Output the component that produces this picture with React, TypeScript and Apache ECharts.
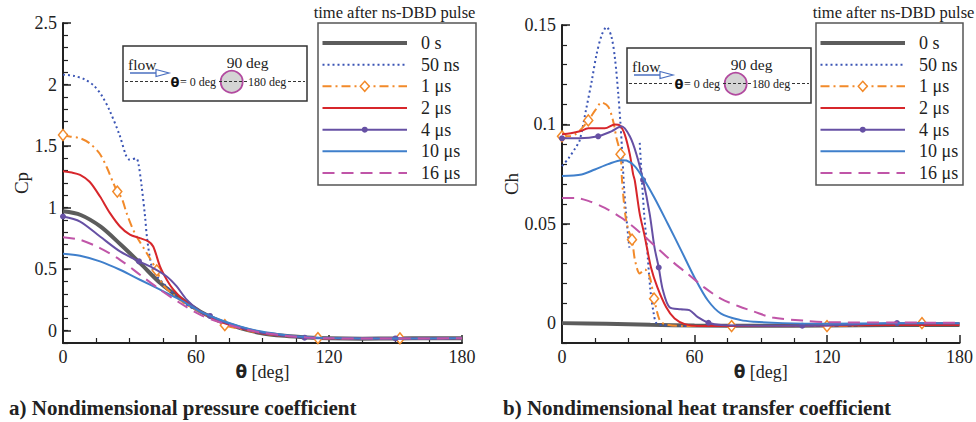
import React, { useEffect, useRef } from 'react';
import * as echarts from 'echarts';

const SERIES_NAMES = ['0 s', '50 ns', '1 μs', '2 μs', '4 μs', '10 μs', '16 μs'];
const LEGEND_TITLE = 'time after ns-DBD pulse';
const SUBTITLE_A = 'a) Nondimensional pressure coefficient';
const SUBTITLE_B = 'b) Nondimensional heat transfer coefficient';

// ---- Pressure coefficient Cp vs theta [deg] ----
const cp0s = [[0, 0.97], [8, 0.94], [17, 0.845], [26, 0.7], [35, 0.545], [44, 0.385], [53, 0.262], [62, 0.155], [71, 0.075], [80, 0.022], [89, -0.018], [100, -0.042], [110, -0.055], [120, -0.062], [135, -0.065], [150, -0.063], [165, -0.062], [180, -0.062]];
const cp50ns = [[0, 2.08], [5, 2.07], [10, 2.04], [14, 1.99], [17.5, 1.91], [21, 1.79], [25.5, 1.59], [28.5, 1.42], [30, 1.39], [33, 1.4], [34, 1.36], [35.5, 1.17], [37, 0.93], [38, 0.74], [40, 0.52], [42, 0.45], [45, 0.39], [50, 0.3], [55, 0.22], [62, 0.15], [71, 0.075], [80, 0.022], [89, -0.018], [100, -0.042], [110, -0.055], [120, -0.062], [150, -0.063], [180, -0.062]];
const cp1us = [[0, 1.59], [3, 1.578], [7.7, 1.564], [12, 1.523], [16.5, 1.44], [19.7, 1.33], [22.7, 1.2], [24.5, 1.13], [26.5, 1.077], [28.7, 0.955], [31, 0.847], [33.2, 0.765], [37.8, 0.63], [42.3, 0.49], [45.2, 0.37], [50, 0.29], [55, 0.22], [62, 0.15], [67, 0.105], [73, 0.045], [80, 0.015], [89, -0.02], [100, -0.043], [115, -0.06], [135, -0.065], [152, -0.063], [180, -0.062]];
const cp2us = [[0, 1.295], [4, 1.285], [7.7, 1.266], [12, 1.21], [16.7, 1.09], [21.2, 0.955], [25.7, 0.847], [30.2, 0.78], [34.7, 0.752], [38.5, 0.725], [40.7, 0.684], [43.8, 0.52], [46.8, 0.414], [49.8, 0.333], [54.3, 0.252], [61.8, 0.157], [71, 0.075], [80, 0.022], [89, -0.018], [100, -0.042], [110, -0.055], [120, -0.062], [150, -0.063], [180, -0.062]];
const cp4us = [[0, 0.928], [7.7, 0.887], [16.7, 0.765], [25.7, 0.644], [34.3, 0.563], [40.7, 0.509], [46.8, 0.441], [51.3, 0.36], [55.8, 0.252], [61.8, 0.157], [66.3, 0.12], [71, 0.08], [80, 0.025], [89, -0.015], [100, -0.042], [109, -0.057], [120, -0.062], [150, -0.063], [180, -0.062]];
const cp10us = [[0, 0.625], [7.7, 0.609], [16.7, 0.563], [25.7, 0.495], [34.7, 0.414], [43.8, 0.333], [52.8, 0.252], [61.8, 0.157], [70.8, 0.089], [79.8, 0.035], [88.9, -0.005], [100, -0.035], [110, -0.052], [120, -0.06], [150, -0.063], [180, -0.062]];
const cp16us = [[0, 0.76], [7.7, 0.739], [16.7, 0.671], [25.7, 0.576], [34.7, 0.455], [43.8, 0.333], [52.8, 0.225], [61.8, 0.13], [70.8, 0.068], [79.8, 0.022], [88.9, -0.013], [100, -0.04], [110, -0.055], [120, -0.062], [150, -0.063], [180, -0.062]];
const cpMarks1us = [0, 24.5, 42.3, 73, 115, 152];
const cpMarks4us = [0, 34.3, 66.3, 109, 150];

// ---- Heat transfer coefficient Ch vs theta [deg] ----
const ch0s = [[0, 0], [20, -0.0003], [40, -0.0008], [60, -0.0012], [90, -0.0013], [120, -0.0012], [150, -0.001], [180, -0.0009]];
const ch50ns = [[0, 0.079], [3, 0.083], [6, 0.088], [8, 0.092], [11, 0.108], [13.5, 0.122], [15.6, 0.135], [18, 0.145], [20.2, 0.149], [22.4, 0.144], [24, 0.133], [25.5, 0.115], [26.5, 0.1], [27.3, 0.085], [28, 0.07], [29, 0.055], [30.5, 0.038], [32.8, null], [35.2, 0.0907], [36.2, 0.0715], [37.2, 0.055], [38.5, 0.038], [40, 0.017], [41.5, 0.005], [42.7, 0], [45, -0.001], [60, -0.0015], [90, -0.0015], [120, -0.0012], [150, -0.001], [180, -0.0009]];
const ch1us = [[0, 0.094], [3, 0.094], [6, 0.095], [9, 0.098], [11.9, 0.102], [15, 0.107], [17.9, 0.111], [20.9, 0.109], [23.2, 0.1015], [24.7, 0.093], [26.5, 0.085], [27.2, 0.0715], [28.6, 0.055], [30, 0.047], [31.7, 0.042], [33, 0.032], [35.2, 0.025], [37.5, 0.027], [39.8, 0.023], [41.7, 0.0123], [44.2, 0.0015], [46.5, -0.0005], [55, -0.0015], [76.8, -0.0015], [90, -0.0015], [120, -0.0015], [150, -0.0005], [163, 0], [180, 0]];
const ch2us = [[0, 0.095], [4, 0.0955], [8.1, 0.0965], [11.9, 0.098], [19.4, 0.098], [23.9, 0.1], [26.2, 0.0995], [28.4, 0.095], [30.7, 0.085], [32.2, 0.075], [33, 0.0715], [35.2, 0.055], [37.4, 0.044], [40.3, 0.028], [43.2, 0.018], [47.2, 0.008], [51, 0.0023], [55.6, -0.0005], [62, -0.0015], [90, -0.0015], [120, -0.0012], [150, -0.001], [180, -0.0009]];
const ch4us = [[0, 0.093], [8, 0.093], [16.4, 0.094], [22.4, 0.0965], [26.9, 0.099], [30.7, 0.094], [33.7, 0.085], [36.7, 0.072], [39.7, 0.055], [41.9, 0.038], [43.8, 0.028], [45.7, 0.0165], [48.7, 0.008], [53.8, 0.007], [57.7, 0.0065], [61.5, 0.003], [66.3, 0.0002], [72, -0.001], [90, -0.0013], [108.8, -0.0013], [130, -0.0008], [151.7, 0], [180, 0]];
const ch10us = [[0, 0.074], [8.9, 0.0748], [14.9, 0.0773], [20.9, 0.08], [27, 0.082], [29.2, 0.0818], [32.9, 0.079], [36.7, 0.073], [41.9, 0.063], [47.9, 0.05], [54, 0.0365], [60, 0.023], [66, 0.0115], [72, 0.0048], [81, 0.0015], [87, 0.0007], [100, 0], [120, -0.0003], [150, 0], [180, 0]];
const ch16us = [[0, 0.063], [6, 0.063], [11.9, 0.0615], [19.4, 0.058], [26.9, 0.053], [34.4, 0.0465], [41.9, 0.039], [49.4, 0.0315], [56.9, 0.0248], [64.4, 0.018], [71.9, 0.0123], [80, 0.0085], [87, 0.0058], [95.3, 0.0028], [110, 0.0012], [120, 0.0005], [150, 0.0003], [180, 0.0002]];
const chMarks1us = [0, 11.9, 26.5, 31.7, 41.7, 76.8, 120, 163];
const chMarks4us = [0, 16.4, 36.7, 43.8, 66.3, 108.8, 151.7];

const CP_MAJOR = [0, 0.5, 1, 1.5, 2, 2.5];
const CH_MAJOR = [0, 0.05, 0.1, 0.15];

const SERIF = "'Liberation Serif', 'Times New Roman', serif";
const INK = '#222';

const STYLES = [
  { color: '#5c5c5c', width: 4, dash: null, marker: null },
  { color: '#3b55b5', width: 2, dash: [2, 3], marker: null },
  { color: '#f28a2a', width: 2, dash: [9, 4, 2, 4], marker: 'diamond' },
  { color: '#d7262b', width: 2, dash: null, marker: null },
  { color: '#6650a4', width: 2, dash: null, marker: 'circle' },
  { color: '#3f7fcb', width: 2, dash: null, marker: null },
  { color: '#c055a8', width: 2, dash: [12, 7], marker: null },
];

function buildData(pairs: any[], marks: number[], style: any) {
  return pairs.map((p) => {
    if (p[1] === null) return [p[0], '-'];
    if (style.marker && marks.some((m) => Math.abs(m - p[0]) < 1e-9)) {
      if (style.marker === 'diamond') {
        return { value: p, symbol: 'diamond', symbolSize: [9, 11], itemStyle: { color: '#fff', borderColor: style.color, borderWidth: 1.5 } };
      }
      return { value: p, symbol: 'circle', symbolSize: 6, itemStyle: { color: style.color, borderWidth: 0 } };
    }
    return p;
  });
}

function makeSeries(idx: number, pairs: any[], marks: number[], axis: number) {
  const st = STYLES[idx];
  return {
    type: 'line',
    name: SERIES_NAMES[idx],
    xAxisIndex: axis,
    yAxisIndex: axis * 2,
    data: buildData(pairs, marks, st),
    symbol: 'none',
    showSymbol: true,
    smooth: 0.3,
    connectNulls: false,
    lineStyle: { color: st.color, width: st.width, type: st.dash || 'solid' },
    itemStyle: { color: st.color },
    emphasis: { disabled: true },
    z: 2 + idx,
  };
}

function xAxisOf(grid: number) {
  return {
    type: 'value', gridIndex: grid, min: 0, max: 180, interval: 60,
    axisLine: { onZero: false, lineStyle: { color: INK, width: 2 } },
    axisTick: { inside: true, length: 8, lineStyle: { color: INK, width: 1.5 } },
    minorTick: { show: true, splitNumber: 4, length: 5, lineStyle: { color: INK, width: 1.2 } },
    splitLine: { show: false },
    axisLabel: { color: INK, fontFamily: SERIF, fontSize: 18, margin: 5 },
    name: '{t|θ} [deg]', nameLocation: 'middle', nameGap: 20, nameMoveOverlap: false,
    nameTextStyle: { color: INK, fontFamily: SERIF, fontSize: 18, rich: { t: { fontFamily: "'DejaVu Sans', sans-serif", fontWeight: 'bold', fontSize: 17, color: INK } } },
  };
}

function fmt(step: number, digits: number) {
  return (v: number) => {
    const r = Math.round(v * Math.pow(10, digits)) / Math.pow(10, digits);
    const k = r / step;
    if (Math.abs(k - Math.round(k)) > 1e-6) return '';
    return String(r);
  };
}

function yAxesOf(grid: number, min: number, max: number, minorStep: number, major: number[], majorStep: number, digits: number, name: string, nameGap: number) {
  return [
    {
      type: 'value', gridIndex: grid, min, max, interval: minorStep,
      axisLine: { show: true, onZero: false, lineStyle: { color: INK, width: 2 } },
      axisTick: { show: true, inside: true, length: 5, lineStyle: { color: INK, width: 1.2 } },
      splitLine: { show: false },
      axisLabel: { color: INK, fontFamily: SERIF, fontSize: 18, margin: 6, formatter: fmt(majorStep, digits) },
      name, nameLocation: 'middle', nameGap, nameMoveOverlap: false,
      nameTextStyle: { color: INK, fontFamily: SERIF, fontSize: 19 },
    },
    {
      type: 'value', gridIndex: grid, min, max, interval: minorStep, position: 'left',
      axisLine: { show: false },
      axisLabel: { show: false },
      splitLine: { show: false },
      axisTick: { show: true, inside: true, length: 8, customValues: major, lineStyle: { color: INK, width: 1.5 } },
    },
  ];
}

function legendElements(bx: number, by: number, bw: number, titleCx: number) {
  const els: any[] = [];
  els.push({ type: 'text', x: titleCx, y: by - 11, style: { text: LEGEND_TITLE, fill: INK, fontFamily: SERIF, fontSize: 16.5, align: 'center', verticalAlign: 'middle' } });
  els.push({ type: 'rect', shape: { x: bx, y: by, width: bw, height: 162 }, style: { fill: '#fff', stroke: '#555', lineWidth: 1.5 } });
  SERIES_NAMES.forEach((name, i) => {
    const st = STYLES[i];
    const y = by + 20 + i * 21.67;
    const x1 = bx + 4.5;
    const x2 = bx + 89;
    els.push({ type: 'line', shape: { x1, y1: y, x2, y2: y }, style: { stroke: st.color, lineWidth: st.width, lineDash: st.dash || null } });
    const cx = (x1 + x2) / 2;
    if (st.marker === 'diamond') {
      els.push({ type: 'polygon', shape: { points: [[cx, y - 5], [cx + 4.5, y], [cx, y + 5], [cx - 4.5, y]] }, style: { fill: '#fff', stroke: st.color, lineWidth: 1.5 } });
    } else if (st.marker === 'circle') {
      els.push({ type: 'circle', shape: { cx, cy: y, r: 3 }, style: { fill: st.color } });
    }
    els.push({ type: 'text', x: bx + 103, y, style: { text: name, fill: INK, fontFamily: SERIF, fontSize: 18, align: 'left', verticalAlign: 'middle' } });
  });
  return els;
}

function insetElements(bx: number, by: number) {
  const els: any[] = [];
  const blue = '#4a6fc0';
  const dashed = { stroke: '#333', lineWidth: 1, lineDash: [3, 2] };
  els.push({ type: 'rect', shape: { x: bx, y: by, width: 184, height: 55 }, style: { fill: '#fff', stroke: '#333', lineWidth: 1.5 } });
  els.push({ type: 'text', x: bx + 5, y: by + 18, style: { text: 'flow', fill: INK, fontFamily: SERIF, fontSize: 15.5, align: 'left', verticalAlign: 'middle' } });
  els.push({ type: 'line', shape: { x1: bx + 7, y1: by + 27, x2: bx + 33, y2: by + 27 }, style: { stroke: blue, lineWidth: 1.5 } });
  els.push({ type: 'polygon', shape: { points: [[bx + 33, by + 23.5], [bx + 46, by + 27], [bx + 33, by + 30.5]] }, style: { fill: '#fff', stroke: blue, lineWidth: 1.2 } });
  els.push({ type: 'line', shape: { x1: bx + 2, y1: by + 35.5, x2: bx + 45, y2: by + 35.5 }, style: dashed });
  els.push({ type: 'text', x: bx + 52, y: by + 36, style: { text: 'θ', fill: '#111', fontFamily: "'DejaVu Sans', sans-serif", fontWeight: 'bold', fontSize: 13, align: 'center', verticalAlign: 'middle' } });
  els.push({ type: 'text', x: bx + 57, y: by + 36, style: { text: '= 0 deg', fill: INK, fontFamily: SERIF, fontSize: 12, align: 'left', verticalAlign: 'middle' } });
  els.push({ type: 'circle', shape: { cx: bx + 108.7, cy: by + 35.7, r: 11 }, style: { fill: '#d4d4d4', stroke: '#b24a9f', lineWidth: 1.8 } });
  els.push({ type: 'line', shape: { x1: bx + 96, y1: by + 35.5, x2: bx + 124, y2: by + 35.5 }, style: dashed });
  els.push({ type: 'text', x: bx + 125, y: by + 36, style: { text: '180 deg', fill: INK, fontFamily: SERIF, fontSize: 12, align: 'left', verticalAlign: 'middle' } });
  els.push({ type: 'line', shape: { x1: bx + 165, y1: by + 35.5, x2: bx + 182, y2: by + 35.5 }, style: dashed });
  els.push({ type: 'text', x: bx + 124.5, y: by + 16, style: { text: '90 deg', fill: INK, fontFamily: SERIF, fontSize: 15.5, align: 'center', verticalAlign: 'middle' } });
  return els;
}

export default function App() {
  const ref = useRef<HTMLDivElement>(null);
  useEffect(() => {
    if (!ref.current) return;
    const chart = echarts.init(ref.current, null, { renderer: 'svg' });
    const cpSets = [[cp0s, []], [cp50ns, []], [cp1us, cpMarks1us], [cp2us, []], [cp4us, cpMarks4us], [cp10us, []], [cp16us, []]];
    const chSets = [[ch0s, []], [ch50ns, []], [ch1us, chMarks1us], [ch2us, []], [ch4us, chMarks4us], [ch10us, []], [ch16us, []]];
    const series: any[] = [];
    cpSets.forEach((s: any, i) => series.push(makeSeries(i, s[0], s[1], 0)));
    chSets.forEach((s: any, i) => series.push(makeSeries(i, s[0], s[1], 1)));

    const graphics: any[] = [
      ...legendElements(318, 23, 158, 394.5),
      ...legendElements(816, 23, 147, 893.5),
      ...insetElements(123, 46),
      ...insetElements(627, 48),
      { type: 'text', x: 9, y: 408, style: { text: SUBTITLE_A, fill: INK, fontFamily: SERIF, fontWeight: 'bold', fontSize: 21, align: 'left', verticalAlign: 'middle' } },
      { type: 'text', x: 503, y: 408, style: { text: SUBTITLE_B, fill: INK, fontFamily: SERIF, fontWeight: 'bold', fontSize: 21, align: 'left', verticalAlign: 'middle' } },
    ].map((e) => ({ ...e, z: 100 }));

    chart.setOption({
      animation: false,
      backgroundColor: '#fff',
      grid: [
        { left: 63, top: 23, width: 399, height: 320 },
        { left: 562, top: 25, width: 399, height: 318 },
      ],
      xAxis: [xAxisOf(0), xAxisOf(1)],
      yAxis: [
        ...yAxesOf(0, -0.1, 2.5, 0.1, CP_MAJOR, 0.5, 2, 'Cp', 32),
        ...yAxesOf(1, -0.01, 0.15, 0.01, CH_MAJOR, 0.05, 3, 'Ch', 41),
      ],
      series,
      graphic: { elements: graphics },
    });
    return () => chart.dispose();
  }, []);
  return <div ref={ref} style={{ position: 'absolute', left: 0, top: 0, width: 976, height: 422 }} />;
}
